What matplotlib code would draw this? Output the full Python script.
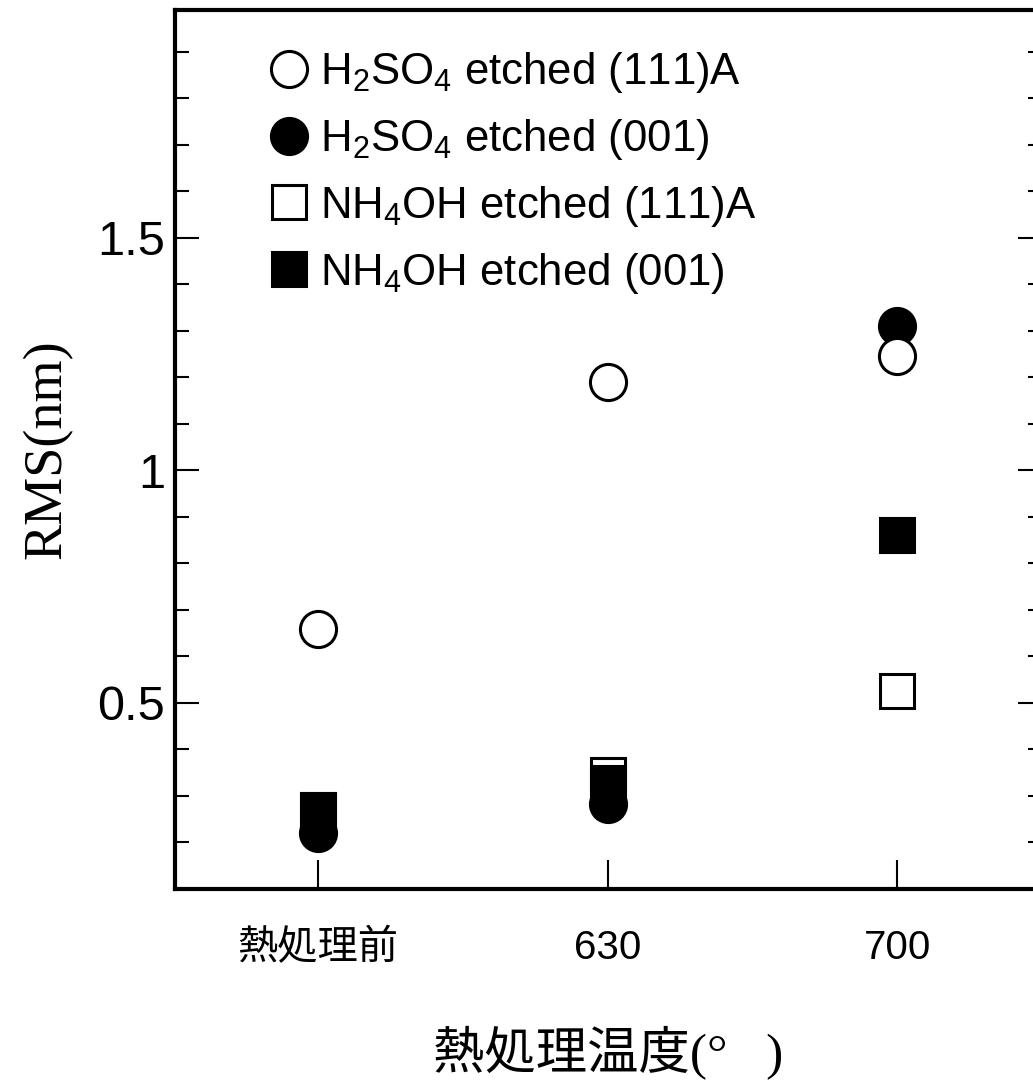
#!/usr/bin/env python3
"""
RMS roughness vs annealing temperature - H2SO4 / NH4OH etched surfaces
"""
import matplotlib
matplotlib.use('Agg')
import matplotlib.pyplot as plt
from matplotlib.ticker import MultipleLocator, FixedLocator

plt.rcParams['font.family'] = ['Liberation Sans', 'Noto Sans CJK JP']
plt.rcParams['mathtext.fontset'] = 'custom'
plt.rcParams['mathtext.rm'] = 'Liberation Sans'
plt.rcParams['mathtext.it'] = 'Liberation Sans:italic'

# categories on x
temps = ['熱処理前', '630', '700']
xpos = [0, 1, 2]

# RMS (nm)
h2so4_111a = [0.66, 1.19, 1.245]
h2so4_001 = [0.22, 0.283, 1.31]
nh4oh_111a = [0.27, 0.345, 0.525]
nh4oh_001 = [0.27, 0.328, 0.862]

labels = [r'H$_2$SO$_4$ etched (111)A',
          r'H$_2$SO$_4$ etched (001)',
          r'NH$_4$OH etched (111)A',
          r'NH$_4$OH etched (001)']


def main():
    fig = plt.figure(figsize=(10.33, 10.91), dpi=100)
    W, H = 1033, 1091
    left, right, top, bottom = 175, 1042, 10, 889
    ax = fig.add_axes([left / W, 1 - bottom / H, (right - left) / W, (bottom - top) / H])

    ms = 26
    mew = 2.2
    p2, = ax.plot(xpos, h2so4_001, 'o', ms=ms, color='black', mec='black', mew=mew, zorder=2)
    p1, = ax.plot(xpos, h2so4_111a, 'o', ms=ms, mfc='white', mec='black', mew=mew, zorder=3)
    p3, = ax.plot(xpos, nh4oh_111a, 's', ms=ms - 1, mfc='white', mec='black', mew=mew, zorder=2)
    p4, = ax.plot(xpos, nh4oh_001, 's', ms=ms - 1, color='black', mec='black', mew=mew, zorder=2.5)

    ax.set_xlim(-0.494, 2.5)
    ax.set_ylim(0.1, 1.99)

    ax.xaxis.set_major_locator(FixedLocator(xpos))
    ax.set_xticklabels(temps, fontsize=29)
    ax.yaxis.set_major_locator(FixedLocator([0.5, 1.0, 1.5]))
    ax.set_yticklabels(['0.5', '1', '1.5'], fontsize=35)
    ax.yaxis.set_minor_locator(MultipleLocator(0.1))

    ax.tick_params(axis='x', direction='in', length=21, width=1.5, pad=29, top=False)
    ax.tick_params(axis='y', which='major', direction='in', length=17, width=1.5,
                   pad=7, left=True, right=True)
    ax.tick_params(axis='y', which='minor', direction='in', length=10, width=1.5,
                   left=True, right=True)
    for s in ax.spines.values():
        s.set_linewidth(3)

    ax.set_ylabel('RMS(nm)', family='Liberation Serif', fontsize=39, labelpad=18)
    ax.set_xlabel('熱処理温度(°   )', family=['Liberation Serif', 'Noto Sans CJK JP'],
                  fontsize=37, labelpad=42)

    ax.legend([p1, p2, p3, p4], labels, loc='upper left',
              bbox_to_anchor=(270 / W, 1 - 50 / H), bbox_transform=fig.transFigure,
              frameon=False, fontsize=31.5, numpoints=1, handlelength=0.85,
              handletextpad=0.3, labelspacing=0.5, borderpad=0, borderaxespad=0,
              markerscale=1.0)

    fig.savefig('out.png', dpi=100)
    print('Saved: out.png')


if __name__ == '__main__':
    main()
